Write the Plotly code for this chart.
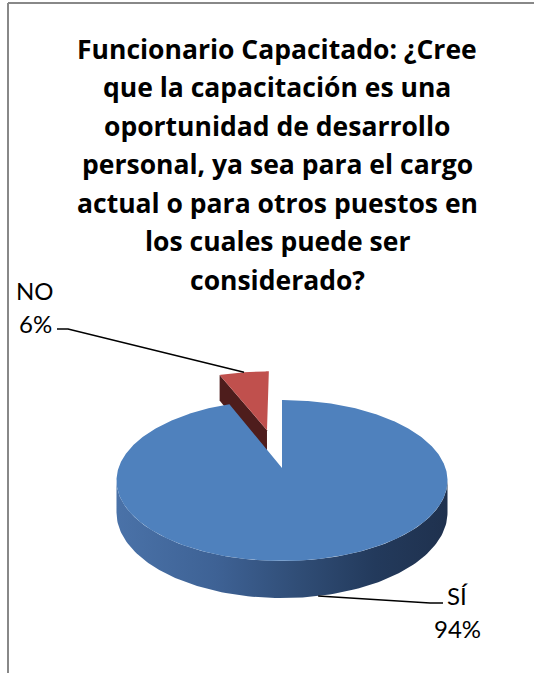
import numpy as np
import plotly.graph_objects as go

# Survey answers
CATEGORIES = ["SÍ", "NO"]
VALUES = [94, 6]
COLORS = ["#4f81bd", "#c0504d"]
CUT_FACE_COLORS = ["#2a4468", "#4e1d1c"]
EXPLODE = [0.0, 0.53]

TITLE_LINES = [
    "Funcionario Capacitado: ¿Cree",
    "que la capacitación es una",
    "oportunidad de desarrollo",
    "personal, ya sea para el cargo",
    "actual o para otros puestos en",
    "los cuales puede ser",
    "considerado?",
]

W, H = 534, 673

# 3-D pie projection (disc seen obliquely, mild perspective)
CX, CY = 282.0, 468.0
RX, RY = 163.5, 78.56
PERSP = 0.1553
DEPTH = 31.3
FRONT = np.degrees(np.arccos(-PERSP))  # silhouette angle of the rim


def project(u, v, z=0.0):
    w = 1.0 + PERSP * np.asarray(v)
    return CX + RX * np.asarray(u) / w, CY - RY * np.asarray(v) / w + z * DEPTH / w


def rim(theta_deg, du, dv, z=0.0):
    t = np.radians(theta_deg)
    return project(du + np.sin(t), dv + np.cos(t), z)


total = float(sum(VALUES))
slices = []
start = 0.0
for name, val, col, cut, ex in zip(CATEGORIES, VALUES, COLORS, CUT_FACE_COLORS, EXPLODE):
    span = 360.0 * val / total
    mid = start + span / 2
    du, dv = ex * np.sin(np.radians(mid)), ex * np.cos(np.radians(mid))
    slices.append(dict(name=name, val=val, col=col, cut=cut, t0=start, t1=start + span,
                       mid=mid, du=du, dv=dv))
    start += span

fig = go.Figure()


def poly(xs, ys, color):
    fig.add_trace(go.Scatter(x=list(xs) + [xs[0]], y=list(ys) + [ys[0]], mode="lines",
                             fill="toself", fillcolor=color, line=dict(width=0, color=color),
                             hoverinfo="skip", showlegend=False))


# far slices first, near slices last
order = sorted(range(len(slices)), key=lambda i: -slices[i]["dv"])
for i in order:
    s = slices[i]
    du, dv = s["du"], s["dv"]
    # radial cut faces that turn toward the viewer
    for edge, sign in ((s["t0"], 1), (s["t1"], -1)):
        nv = sign * np.sin(np.radians(edge))
        if nv < -1e-6:
            ax0, ay0 = project(du, dv, 0)
            ax1, ay1 = project(du, dv, 1)
            rx0, ry0 = rim(edge, du, dv, 0)
            rx1, ry1 = rim(edge, du, dv, 1)
            poly([ax0, rx0, rx1, ax1], [ay0, ry0, ry1, ay1], s["cut"])
    # outer wall on the front half
    a0, a1 = max(s["t0"], FRONT), min(s["t1"], 360 - FRONT)
    if a1 > a0:
        th = np.linspace(a0, a1, 120)
        tx, ty = rim(th, du, dv, 0)
        bx, by = rim(th[::-1], du, dv, 1)
        xs = np.concatenate([tx, bx])
        ys = np.concatenate([ty, by])
        fig.add_trace(go.Scatter(
            x=list(xs) + [xs[0]], y=list(ys) + [ys[0]], mode="lines", fill="toself",
            fillgradient=dict(type="horizontal",
                              colorscale=[[0, "#4a72a8"], [0.3, "#3e6295"], [0.55, "#304d76"],
                                          [0.78, "#233a5c"], [1, "#1f314e"]]),
            line=dict(width=0), hoverinfo="skip", showlegend=False))
    # top face
    th = np.linspace(s["t0"], s["t1"], max(8, int(s["t1"] - s["t0"]) * 2))
    rx, ry = rim(th, du, dv, 0)
    axp, ayp = project(du, dv, 0)
    poly([axp] + list(rx), [ayp] + list(ry), s["col"])

# leader lines and labels
lab_font = dict(family="Lato, Noto Sans, sans-serif", size=24, color="#000000")
for s in slices:
    if s["name"] == "NO":
        ex, ey = rim(s["mid"], s["du"], s["dv"], 0)
        fig.add_trace(go.Scatter(x=[57, 68, float(ex)], y=[329, 329, float(ey)], mode="lines",
                                 line=dict(color="#000000", width=1.5), hoverinfo="skip",
                                 showlegend=False))
        lx, ly = 35, 290
    else:
        ex, ey = rim(s["mid"], s["du"], s["dv"], 1)
        fig.add_trace(go.Scatter(x=[float(ex), 430, 443], y=[float(ey), 603, 603], mode="lines",
                                 line=dict(color="#000000", width=1.5), hoverinfo="skip",
                                 showlegend=False))
        lx, ly = 457, 595
    fig.add_annotation(x=lx, y=ly, text=s["name"], showarrow=False, xanchor="center",
                       yanchor="middle", font=lab_font)
    fig.add_annotation(x=lx, y=ly + 33, text=f"{s['val']}%", showarrow=False, xanchor="center",
                       yanchor="middle", font=lab_font)

# title
for k, line in enumerate(TITLE_LINES):
    fig.add_annotation(x=277, y=48.5 + 38.5 * k, text=f"<b>{line}</b>", showarrow=False,
                       xanchor="center", yanchor="middle",
                       font=dict(family="Open Sans, Noto Sans, sans-serif", size=26.5,
                                 color="#000000"))

# chart frame
fig.add_shape(type="line", x0=8, x1=W, y0=3, y1=3, line=dict(color="#888888", width=2))
fig.add_shape(type="line", x0=8, x1=8, y0=3, y1=H, line=dict(color="#888888", width=2))

fig.update_layout(
    width=W, height=H, autosize=False,
    margin=dict(l=0, r=0, t=0, b=0),
    paper_bgcolor="#ffffff", plot_bgcolor="#ffffff",
    xaxis=dict(range=[0, W], visible=False, fixedrange=True),
    yaxis=dict(range=[H, 0], visible=False, fixedrange=True),
    showlegend=False,
)

fig.write_html("out.html", config={"displayModeBar": False})
